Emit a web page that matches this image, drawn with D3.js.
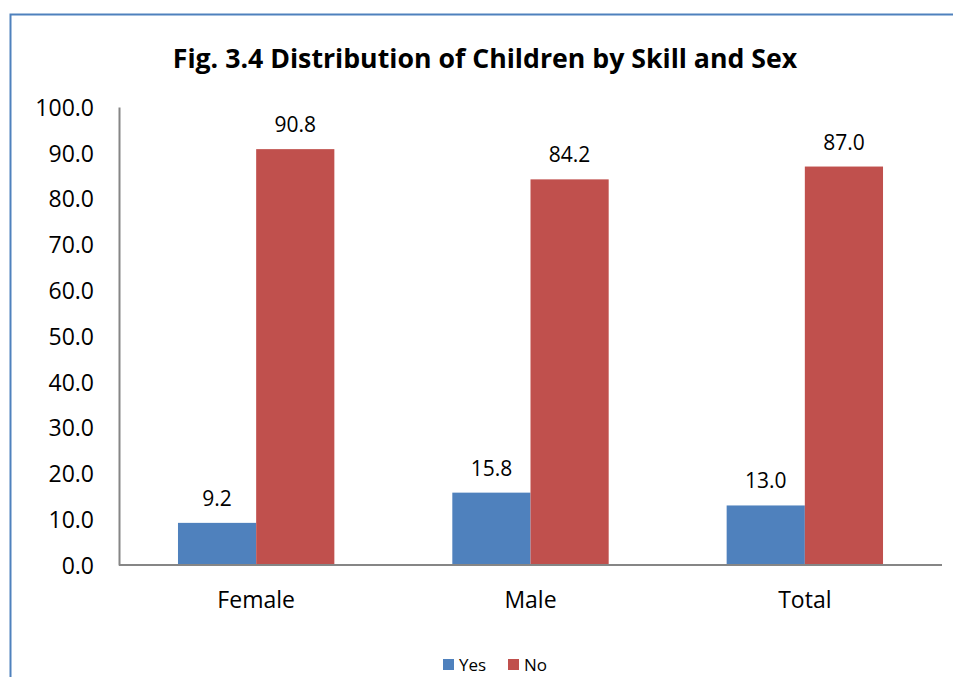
<!DOCTYPE html>
<html><head><meta charset="utf-8">
<script src="https://cdn.jsdelivr.net/npm/d3@7"></script>
<style>body{margin:0;background:#fff;}svg{display:block;}text{font-family:"Open Sans",sans-serif;fill:#000;}</style>
</head><body>
<script>
const title = "Fig. 3.4 Distribution of Children by Skill and Sex";
const categories = ["Female", "Male", "Total"];
const seriesNames = ["Yes", "No"];
const yesValues = [9.2, 15.8, 13.0];
const noValues = [90.8, 84.2, 87.0];
const yTicks = [0, 10, 20, 30, 40, 50, 60, 70, 80, 90, 100];
const colors = ["#4F81BD", "#C0504D"];

const W = 953, H = 677;
const FONT = "'Open Sans',sans-serif";
const svg = d3.select("body").append("svg").attr("width", W).attr("height", H);

// outer frame (left and top edges visible)
svg.append("path").attr("d", `M10.5,${H} V14.5 H${W}`).attr("fill", "none").attr("stroke", "#4F81BD").attr("stroke-width", 2);

svg.append("text").attr("x", 485).attr("y", 68).attr("text-anchor", "middle")
  .style("font-weight", "bold").style("font-size", "26.7px").text(title);

const pLeft = 119, pRight = 942, pTop = 107, pBottom = 565;
const x = d3.scaleBand().domain(categories).range([pLeft, pRight]).paddingInner(0.43).paddingOuter(0.215);
const xs = d3.scaleBand().domain(seriesNames).range([0, x.bandwidth()]);
const y = d3.scaleLinear().domain([0, 100]).range([pBottom, pTop]);

const data = categories.map((c, i) => ({cat: c, vals: [yesValues[i], noValues[i]]}));

const g = svg.append("g");
data.forEach(d => {
  d.vals.forEach((v, j) => {
    const bx = x(d.cat) + xs(seriesNames[j]);
    g.append("rect").attr("x", bx).attr("y", y(v)).attr("width", xs.bandwidth()).attr("height", y(0) - y(v)).attr("fill", colors[j]);
    g.append("text").attr("x", bx + xs.bandwidth() / 2).attr("y", y(v) - 17).attr("text-anchor", "middle")
      .style("font-size", "21px").text(v.toFixed(1));
  });
});

// y axis
const ya = svg.append("g").attr("transform", `translate(${pLeft},0)`)
  .call(d3.axisLeft(y).tickValues(yTicks).tickSize(0).tickPadding(25).tickFormat(d3.format(".1f")));
ya.select(".domain").attr("stroke", "#868686").attr("stroke-width", 2);
ya.selectAll("text").style("font-size", "23px").style("font-family", FONT).attr("dy", "0.36em");

// x axis
const xa = svg.append("g").attr("transform", `translate(0,${pBottom})`)
  .call(d3.axisBottom(x).tickSize(0).tickPadding(22));
xa.select(".domain").attr("stroke", "#868686").attr("stroke-width", 2).attr("d", `M${pLeft},0H${pRight}`);
xa.selectAll("text").style("font-size", "23px").style("font-family", FONT).attr("dy", null).attr("y", 43);

// legend
const leg = svg.append("g");
const legX = [443, 508];
seriesNames.forEach((s, j) => {
  leg.append("rect").attr("x", legX[j]).attr("y", 659).attr("width", 11).attr("height", 11).attr("fill", colors[j]);
  leg.append("text").attr("x", legX[j] + 16).attr("y", 671).style("font-size", "17px").text(s);
});
</script>
</body></html>
